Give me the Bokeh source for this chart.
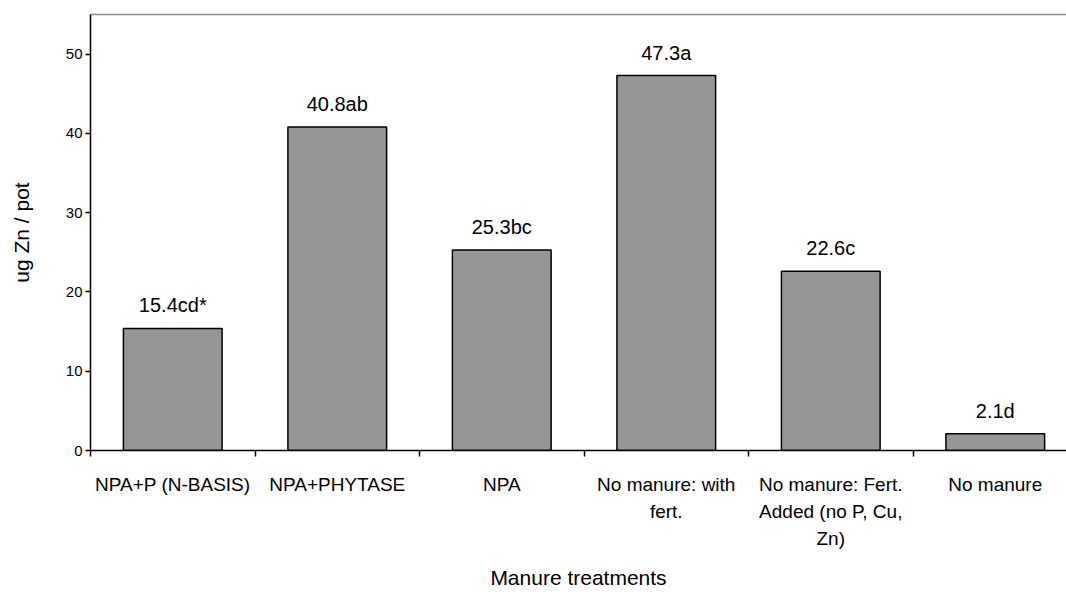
from bokeh.plotting import figure
from bokeh.models import Range1d, FixedTicker, LinearAxis, ColumnDataSource
from bokeh.core.properties import value
from bokeh.embed import file_html
from bokeh.resources import INLINE

categories = ["NPA+P (N-BASIS)", "NPA+PHYTASE", "NPA", "No manure: with\nfert.",
              "No manure: Fert.\nAdded (no P, Cu,\nZn)", "No manure"]
zn_values = [15.4, 40.8, 25.3, 47.3, 22.6, 2.1]
letters = ["cd*", "ab", "bc", "a", "c", "d"]
y_ticks = [0, 10, 20, 30, 40, 50]

FONT = "Liberation Sans"

xs = [i + 0.5 for i in range(len(categories))]
src = ColumnDataSource(dict(
    x=xs, top=zn_values,
    lab=[f"{v}{l}" for v, l in zip(zn_values, letters)],
))

p = figure(width=1066, height=592, output_backend="svg", toolbar_location=None,
           x_range=Range1d(0, 5.933), y_range=Range1d(0, 55),
           min_border_left=90, min_border_right=0, min_border_top=14, min_border_bottom=142)
p.outline_line_color = None
p.grid.visible = False
p.background_fill_color = "white"
p.border_fill_color = "white"

p.vbar(x="x", top="top", width=0.6, bottom=0, source=src,
       fill_color="#969696", line_color="black", line_width=1.5)

p.text(x="x", y="top", text="lab", source=src, text_align="center",
       text_baseline="alphabetic", y_offset=-23, text_font=value(FONT),
       text_font_size="20px", text_color="black")

# x axis
xa = p.xaxis[0]
xa.ticker = FixedTicker(ticks=xs, minor_ticks=list(range(len(categories) + 1)))
xa.major_label_overrides = {x: c for x, c in zip(xs, categories)}
xa.major_tick_out = 0
xa.major_tick_in = 0
xa.minor_tick_out = 6
xa.minor_tick_in = 0
xa.minor_tick_line_color = "black"
xa.minor_tick_line_width = 1.5
xa.axis_line_color = "black"
xa.axis_line_width = 1.5
xa.major_label_text_font = FONT
xa.major_label_text_font_size = "19px"
xa.major_label_text_color = "black"
xa.major_label_text_line_height = 1.3
xa.major_label_standoff = 17
xa.axis_label = "Manure treatments"
xa.axis_label_text_font = FONT
xa.axis_label_text_font_size = "21px"
xa.axis_label_text_font_style = "normal"
xa.axis_label_text_color = "black"
xa.axis_label_text_line_height = 1.0
xa.axis_label_standoff = 14

# y axis
ya = p.yaxis[0]
ya.ticker = FixedTicker(ticks=y_ticks)
ya.major_tick_out = 5
ya.major_tick_in = 0
ya.minor_tick_line_color = None
ya.major_tick_line_color = "black"
ya.major_tick_line_width = 1.5
ya.axis_line_color = "black"
ya.axis_line_width = 1.5
ya.major_label_text_font = FONT
ya.major_label_text_font_size = "15px"
ya.major_label_text_color = "black"
ya.major_label_standoff = 3
ya.axis_label = "ug Zn / pot"
ya.axis_label_text_font = FONT
ya.axis_label_text_font_size = "21px"
ya.axis_label_text_font_style = "normal"
ya.axis_label_text_color = "black"
ya.axis_label_standoff = 30

# top border line
top_axis = LinearAxis(ticker=FixedTicker(ticks=[]), axis_line_color="#8c8c8c",
                      axis_line_width=1.5, major_tick_out=0, major_tick_in=0,
                      minor_tick_out=0, minor_tick_in=0, major_label_text_font_size="0px")
p.add_layout(top_axis, "above")

open("out.html", "w").write(file_html(p, INLINE))
